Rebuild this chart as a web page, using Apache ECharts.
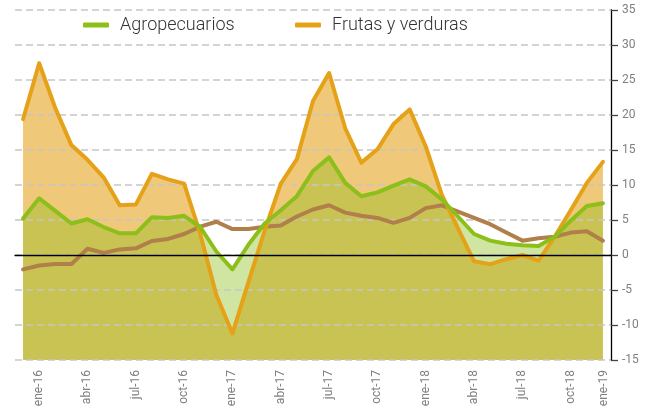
<!DOCTYPE html>
<html lang="es">
<head>
    <meta charset="UTF-8">
    <title>Agropecuarios y frutas y verduras</title>
    <script src="https://cdn.jsdelivr.net/npm/echarts@6/dist/echarts.min.js"></script>
    <style>
        html, body { margin: 0; padding: 0; background: #fff; }
    </style>
</head>
<body>
    <div id="main" style="width:647px;height:410px;"></div>
<script type="text/javascript">
    // datos (variacion anual, %)
    var meses = ['ene-16','feb-16','mar-16','abr-16','may-16','jun-16','jul-16','ago-16','sep-16','oct-16','nov-16','dic-16',
                 'ene-17','feb-17','mar-17','abr-17','may-17','jun-17','jul-17','ago-17','sep-17','oct-17','nov-17','dic-17',
                 'ene-18','feb-18','mar-18','abr-18','may-18','jun-18','jul-18','ago-18','sep-18','oct-18','nov-18','dic-18',
                 'ene-19'];
    var frutas = [19.4, 27.4, 21.0, 15.7, 13.6, 11.1, 7.1, 7.2, 11.6, 10.8, 10.2, 3.0,
                  -5.7, -11.2, -3.8, 3.5, 10.2, 13.7, 22.0, 26.0, 18.1, 13.2, 15.1, 18.7,
                  20.8, 15.5, 8.6, 3.8, -0.9, -1.3, -0.6, 0.0, -0.8, 2.6, 6.4, 10.3,
                  13.3];
    var agro = [5.2, 8.1, 6.3, 4.5, 5.1, 4.0, 3.1, 3.1, 5.4, 5.3, 5.6, 4.0,
                0.5, -2.05, 1.5, 4.5, 6.4, 8.4, 12.0, 13.95, 10.3, 8.4, 8.95, 9.9,
                10.8, 9.8, 7.95, 5.5, 3.0, 2.05, 1.6, 1.4, 1.3, 2.6, 4.9, 7.0,
                7.4];
    var otro = [-2.05, -1.5, -1.3, -1.3, 0.9, 0.3, 0.8, 0.95, 2.0, 2.3, 3.0, 4.05,
                4.75, 3.7, 3.7, 4.05, 4.2, 5.5, 6.5, 7.1, 6.05, 5.6, 5.3, 4.6,
                5.3, 6.7, 7.1, 6.2, 5.3, 4.4, 3.2, 2.05, 2.4, 2.6, 3.2, 3.4,
                2.05];
    var yMin = -15, yMax = 35, yPaso = 5;

    var colNaranja = '#E5A118';
    var colVerde = '#8CBF1A';
    var colCafe = '#B07F4A';
    var fuente = 'Roboto';

    var myChart = echarts.init(document.getElementById('main'));

    var leyendaTexto = {
        color: '#333',
        fontSize: 18,
        fontFamily: fuente,
        fontWeight: 300,
        padding: [0, 0, 0, 6]
    };

    option = {
        animation: false,
        textStyle: { fontFamily: fuente },
        grid: { left: 15, right: 36, top: 10, bottom: 50 },
        legend: [
            {
                data: ['Agropecuarios'],
                left: 78, top: 11,
                icon: 'roundRect', itemWidth: 26, itemHeight: 5,
                textStyle: leyendaTexto
            },
            {
                data: ['Frutas y verduras'],
                left: 290, top: 11,
                icon: 'roundRect', itemWidth: 26, itemHeight: 5,
                textStyle: leyendaTexto
            }
        ],
        xAxis: [
            {
                // linea del cero con marcas
                type: 'category',
                data: meses,
                boundaryGap: true,
                z: 6,
                axisLine: { onZero: true, lineStyle: { color: '#000', width: 1.3 } },
                axisTick: { interval: 2, length: 6, lineStyle: { color: '#444', width: 1.3 } },
                axisLabel: { show: false },
                splitLine: { show: false }
            },
            {
                // etiquetas abajo
                type: 'category',
                data: meses,
                boundaryGap: true,
                position: 'bottom',
                axisLine: { show: false, onZero: false },
                axisTick: { show: false },
                axisLabel: {
                    interval: 2,
                    rotate: 90,
                    margin: 10,
                    color: '#808080',
                    fontSize: 12,
                    verticalAlign: 'top',
                    formatter: function (v, i) {
                        return i === meses.length - 1 ? '{n|' + v + '}' : '{s|' + v + '}';
                    },
                    rich: {
                        s: { lineHeight: 32, fontSize: 12, color: '#808080', fontFamily: fuente },
                        n: { lineHeight: 2, fontSize: 12, color: '#808080', fontFamily: fuente }
                    }
                }
            }
        ],
        yAxis: {
            type: 'value',
            position: 'right',
            min: yMin,
            max: yMax,
            interval: yPaso,
            z: 2,
            axisLine: { show: true, lineStyle: { color: '#000', width: 1.3 } },
            axisTick: { show: true, length: 7, lineStyle: { color: '#444', width: 1.3 } },
            axisLabel: { margin: 11, color: '#808080', fontSize: 12 },
            splitLine: { lineStyle: { color: '#c6c6c6', width: 1.5, type: [7, 4] } }
        },
        series: [
            { // area naranja
                name: 'area_frutas',
                type: 'line',
                data: frutas,
                symbol: 'none',
                lineStyle: { width: 0 },
                areaStyle: { origin: 'start', color: 'rgba(229,161,24,0.58)', opacity: 1 },
                z: 1,
                silent: true
            },
            { // area verde
                name: 'area_agro',
                type: 'line',
                data: agro,
                symbol: 'none',
                lineStyle: { width: 0 },
                areaStyle: { origin: 'start', color: 'rgba(140,190,26,0.4)', opacity: 1 },
                z: 1,
                silent: true
            },
            {
                name: 'General',
                type: 'line',
                data: otro,
                symbol: 'none',
                lineStyle: { color: colCafe, width: 4, cap: 'round', join: 'round' },
                itemStyle: { color: colCafe },
                z: 3
            },
            {
                name: 'Frutas y verduras',
                type: 'line',
                data: frutas,
                symbol: 'none',
                lineStyle: { color: colNaranja, width: 4, cap: 'round', join: 'round' },
                itemStyle: { color: colNaranja },
                z: 4
            },
            {
                name: 'Agropecuarios',
                type: 'line',
                data: agro,
                symbol: 'none',
                lineStyle: { color: colVerde, width: 4, cap: 'round', join: 'round' },
                itemStyle: { color: colVerde },
                z: 5
            }
        ]
    };

    myChart.setOption(option);
</script>
</body>
</html>
